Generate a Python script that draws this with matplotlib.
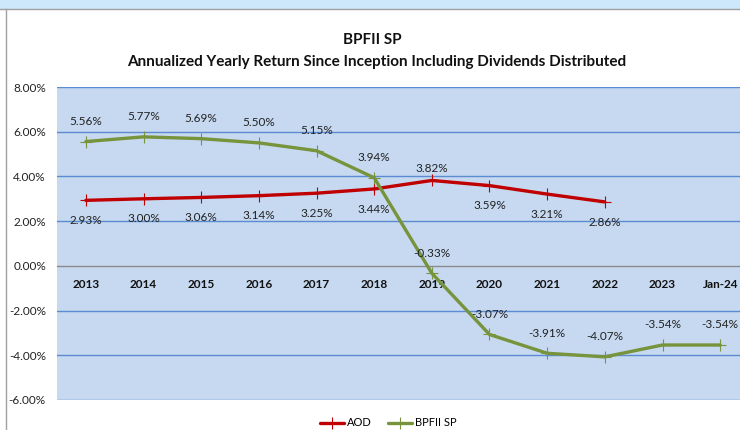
import matplotlib
matplotlib.use("Agg")
import matplotlib.pyplot as plt
from matplotlib.ticker import FuncFormatter
from matplotlib.patches import Rectangle

plt.rcParams['font.family'] = ['Lato', 'DejaVu Sans']

categories = ["2013", "2014", "2015", "2016", "2017", "2018", "2019", "2020",
              "2021", "2022", "2023", "Jan-24"]
aod = [2.93, 3.00, 3.06, 3.14, 3.25, 3.44, 3.82, 3.59, 3.21, 2.86]
bpfii = [5.56, 5.77, 5.69, 5.50, 5.15, 3.94, -0.33, -3.07, -3.91, -4.07, -3.54, -3.54]
yticks = [-6, -4, -2, 0, 2, 4, 6, 8]
aod_label_above = [False, False, False, False, False, False, True, False, False, False]

red = "#C00000"
green = "#77933C"
plot_bg = "#C6D9F0"
grid_c = "#5B8BD0"

fig = plt.figure(figsize=(7.4, 4.3), dpi=100)
fig.patch.set_facecolor("white")
# top strip / border
fig.add_artist(Rectangle((0, 1 - 9 / 430), 1, 9 / 430, transform=fig.transFigure,
                         facecolor="#CDE8FA", edgecolor="none", zorder=0))
fig.add_artist(plt.Line2D([0, 1], [1 - 9 / 430] * 2, transform=fig.transFigure,
                          color="#A0A0A0", lw=1))
fig.add_artist(plt.Line2D([6 / 740] * 2, [0, 1 - 9 / 430], transform=fig.transFigure,
                          color="#A0A0A0", lw=1))

ax = fig.add_axes([57 / 740, 30 / 430, 692 / 740, 313 / 430])
ax.set_facecolor(plot_bg)
ax.set_xlim(-0.5, len(categories) - 0.5)
ax.set_ylim(-6, 8)
for s in ax.spines.values():
    s.set_visible(False)

for v in yticks:
    if v == 0:
        ax.axhline(v, color="#8A8A8A", lw=1.0, zorder=1)
    else:
        ax.axhline(v, color=grid_c, lw=1.0, zorder=1)

ax.set_yticks(yticks)
ax.yaxis.set_major_formatter(FuncFormatter(lambda v, p: f"{v:.2f}%"))
ax.tick_params(axis="y", length=0, labelsize=8.5, colors="#222222", pad=8)
ax.set_xticks([])

for i, c in enumerate(categories):
    ax.text(i, -0.85, c, ha="center", va="center", fontsize=8.5,
            fontweight="bold", color="#111111")

xa = list(range(len(aod)))
xb = list(range(len(bpfii)))
ax.plot(xa, aod, color=red, lw=2.4, marker="+", ms=8, mew=0.8, zorder=3,
        label="AOD", solid_capstyle="round")
ax.plot(xb, bpfii, color=green, lw=2.4, marker="+", ms=8, mew=0.8, zorder=3,
        label="BPFII SP", solid_capstyle="round")

for i, v in enumerate(aod):
    if aod_label_above[i]:
        ax.text(i, v + 0.55, f"{v:.2f}%", ha="center", va="center", fontsize=8.5,
                color="#222222")
    else:
        ax.text(i, v - 0.9, f"{v:.2f}%", ha="center", va="center", fontsize=8.5,
                color="#222222")
for i, v in enumerate(bpfii):
    ax.text(i, v + 0.9, f"{v:.2f}%", ha="center", va="center", fontsize=8.5,
            color="#222222")

fig.text(372 / 740, 1 - 40 / 430, "BPFII SP", ha="center", va="center",
         fontsize=11, fontweight="bold", color="#111111")
fig.text(377 / 740, 1 - 62 / 430,
         "Annualized Yearly Return Since Inception Including Dividends Distributed",
         ha="center", va="center", fontsize=11, fontweight="bold", color="#111111")

leg = fig.legend(loc="center", bbox_to_anchor=(388 / 740, 1 - 423 / 430), ncol=2,
                 frameon=False, fontsize=8, handlelength=2.2, handletextpad=0.2,
                 columnspacing=1.5, borderpad=0)

fig.savefig("out.png", dpi=100)
